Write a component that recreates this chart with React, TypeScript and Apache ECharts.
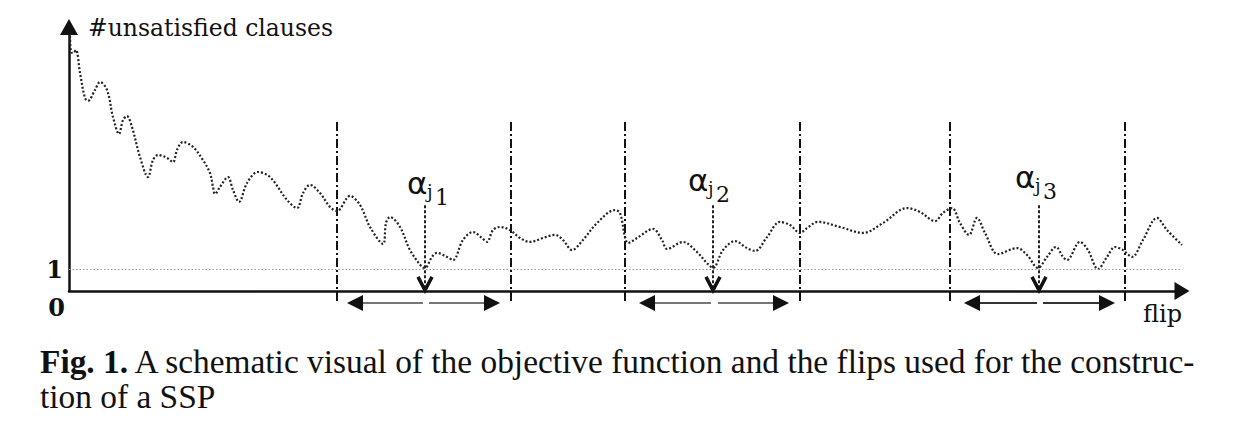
import React, { useEffect, useRef } from "react";
import * as echarts from "echarts";

// flip index (x) and number of unsatisfied clauses (y)
const flips = [
  1, 2, 4, 7, 11, 16, 19, 26, 31, 38, 44, 50, 54, 58, 63, 71, 79, 84, 89, 98,
  104, 108, 114, 124, 134, 141, 144, 146, 151, 159, 164, 170, 178, 189, 201, 218, 228, 234, 241, 251,
  261, 268, 281, 291, 301, 314, 317, 321, 331, 341, 353, 356, 363, 368, 378, 384, 394, 404, 413, 418,
  424, 431, 441, 451, 461, 474, 486, 494, 503, 514, 528, 546, 551, 556, 559, 568, 584, 593, 598, 614,
  628, 638, 644, 654, 666, 678, 686, 698, 711, 721, 731, 738, 749, 771, 794, 814, 838, 851, 866, 874,
  883, 891, 900, 908, 916, 929, 948, 958, 969, 978, 987, 994, 998, 1011, 1019, 1029, 1038, 1046, 1054, 1063,
  1074, 1088, 1098, 1113,
];
const unsatisfied = [
  11.59, 10.86, 10.82, 10.95, 9.91, 8.77, 8.64, 9.14, 9.5, 9.14, 7.91, 7.14, 7.77, 7.95, 7.45, 6.09, 5.18, 5.95, 6.18, 6.05,
  5.86, 6.41, 6.77, 6.55, 5.95, 5.36, 4.73, 4.41, 4.73, 5.18, 4.59, 4.05, 4.91, 5.41, 5.18, 4.14, 3.77, 4.45, 4.82, 4.45,
  3.82, 3.64, 4.32, 3.91, 2.91, 2.14, 3.09, 3.36, 2.91, 1.86, 1.09, 1.05, 1.55, 1.73, 1.55, 1.41, 2.32, 2.68, 2.41, 2.23,
  2.77, 2.91, 2.77, 2.41, 2.23, 2.41, 2.55, 2.32, 1.86, 2.32, 3.09, 3.68, 3.55, 2.45, 2.18, 2.41, 2.82, 2.32, 1.91, 2.23,
  1.77, 1.27, 1.05, 1.86, 2.27, 1.95, 1.82, 2.45, 3.14, 3.0, 2.64, 2.86, 3.14, 2.91, 2.64, 3.09, 3.77, 3.59, 3.18, 3.55,
  3.77, 3.09, 2.55, 3.32, 2.64, 1.68, 1.95, 1.64, 1.05, 1.55, 2.0, 1.55, 1.41, 2.23, 1.86, 1.0, 1.55, 2.0, 1.86, 1.55,
  2.32, 3.32, 2.77, 2.09,
];

// dash-dot window boundaries (flip positions)
const boundaries = [268, 442, 556, 731, 881, 1056];
// flips alpha_j (minima used for the SSP)
const alphaFlips = [356, 644, 970];
const alphaSubs = ["1", "2", "3"];
// double-headed arrows below the axis: [start, end] and gap [from, to]
const spanStart = [278, 570, 895];
const spanEnd = [431, 720, 1046];
const gapFrom = [354, 642, 968];
const gapTo = [360, 649, 974];
const threshold = 1;
const yTickLabels: Record<number, string> = { 1: "1" };
const xTickLabels: Record<number, string> = { 0: "0" };

const X_MAX = 1113;
const Y_MAX = 12;
const BOUND_TOP = 7.68;
const BOUND_BOTTOM = -0.59;
const ALPHA_TOP = 3.9;
const SPAN_Y = -0.55;

const alphaDx = [-18, -25, -24];
const alphaCy = [183, 180, 177];

const SERIF = '"DejaVu Serif", serif';
const CAPTION = '"Liberation Serif", serif';

export default function App() {
  const ref = useRef<HTMLDivElement>(null);
  useEffect(() => {
    if (!ref.current) return;
    const chart = echarts.init(ref.current, null, { renderer: "svg" });

    const curve = flips.map((f, i) => [f, unsatisfied[i]]);
    const shaftData: any[] = [];
    const headData: any[] = [];
    spanStart.forEach((s, i) => {
      const col = i === 2 ? "#333" : "#777";
      shaftData.push({ coords: [[s + 8, SPAN_Y], [gapFrom[i], SPAN_Y]], lineStyle: { color: col } });
      shaftData.push({ coords: [[gapTo[i], SPAN_Y], [spanEnd[i] - 8, SPAN_Y]], lineStyle: { color: col } });
      headData.push({ coords: [[s + 9, SPAN_Y], [s + 8, SPAN_Y]] });
      headData.push({ coords: [[spanEnd[i] - 9, SPAN_Y], [spanEnd[i] - 8, SPAN_Y]] });
    });

    const option: any = {
      animation: false,
      backgroundColor: "#fff",
      grid: { left: 69, top: 27, width: X_MAX, height: 264, containLabel: false },
      xAxis: {
        type: "value",
        min: 0,
        max: X_MAX,
        interval: X_MAX,
        axisLine: {
          show: true,
          onZero: false,
          symbol: ["none", "triangle"],
          symbolSize: [18, 15],
          lineStyle: { color: "#111", width: 2.5 },
        },
        axisTick: { show: false },
        splitLine: { show: false },
        axisLabel: {
          formatter: (v: number) => xTickLabels[v] ?? "",
          align: "right",
          margin: 4,
          padding: [0, 4, 0, 0],
          fontFamily: SERIF,
          fontWeight: "bold",
          fontSize: 24,
          color: "#111",
        },
      },
      yAxis: {
        type: "value",
        min: 0,
        max: Y_MAX,
        interval: 1,
        axisLine: {
          show: true,
          onZero: false,
          symbol: ["none", "triangle"],
          symbolSize: [18, 16],
          lineStyle: { color: "#111", width: 2.5 },
        },
        axisTick: { show: false },
        splitLine: { show: false },
        axisLabel: {
          formatter: (v: number) => yTickLabels[v] ?? "",
          margin: 6,
          padding: [6, 0, 0, 0],
          fontFamily: SERIF,
          fontWeight: "bold",
          fontSize: 24,
          color: "#111",
        },
      },
      series: [
        {
          type: "line",
          data: curve,
          smooth: 0.35,
          symbol: "none",
          clip: false,
          z: 3,
          lineStyle: { type: [2, 2], width: 2.2, color: "#222" },
          markLine: {
            silent: true,
            symbol: "none",
            label: { show: false },
            lineStyle: { type: [1.5, 2], width: 1, color: "#999" },
            data: [{ yAxis: threshold }],
          },
        },
        {
          type: "lines",
          coordinateSystem: "cartesian2d",
          clip: false,
          symbol: "none",
          lineStyle: { type: [9, 3, 2, 3], width: 2, color: "#111", opacity: 1 },
          data: boundaries.map((b) => ({ coords: [[b, BOUND_TOP], [b, BOUND_BOTTOM]] })),
        },
        {
          type: "lines",
          coordinateSystem: "cartesian2d",
          clip: false,
          symbol: "none",
          lineStyle: { type: [3, 2], width: 2, color: "#222", opacity: 1 },
          data: alphaFlips.map((a) => ({ coords: [[a, ALPHA_TOP], [a, 0.1]] })),
        },
        {
          type: "lines",
          coordinateSystem: "cartesian2d",
          polyline: true,
          clip: false,
          symbol: "none",
          lineStyle: { width: 3.5, color: "#111", opacity: 1 },
          data: alphaFlips.map((a) => ({ coords: [[a - 7, 0.64], [a, 0.03], [a + 7, 0.64]] })),
        },
        {
          type: "lines",
          coordinateSystem: "cartesian2d",
          clip: false,
          symbol: "none",
          lineStyle: { width: 2, opacity: 1 },
          data: shaftData,
        },
        {
          type: "lines",
          coordinateSystem: "cartesian2d",
          clip: false,
          symbol: ["none", "triangle"],
          symbolSize: [16, 16],
          lineStyle: { width: 1, color: "#111", opacity: 1 },
          data: headData,
        },
      ],
    };
    chart.setOption(option);

    const graphics: any[] = [
      {
        type: "text",
        left: 88,
        top: 16,
        style: { text: "#unsatisfied clauses", font: `23.5px ${SERIF}`, fill: "#111" },
      },
      {
        type: "text",
        left: 1143,
        top: 302,
        style: { text: "flip", font: `24px ${SERIF}`, fill: "#111" },
      },
      {
        type: "text",
        x: 40,
        y: 361,
        style: {
          text: "{b|Fig. 1.} A schematic visual of the objective function and the flips used for the construc-",
          font: `33.4px ${CAPTION}`,
          fill: "#111",
          verticalAlign: "middle",
          rich: { b: { fontWeight: "bold", fontSize: 33.4, fontFamily: CAPTION, fill: "#111" } },
        },
      },
      {
        type: "text",
        x: 40,
        y: 396,
        style: { text: "tion of a SSP", font: `33.4px ${CAPTION}`, fill: "#111", verticalAlign: "middle" },
      },
    ];
    alphaFlips.forEach((a, i) => {
      const p = chart.convertToPixel({ gridIndex: 0 }, [a, 0]) as number[];
      const left = p[0] + alphaDx[i];
      const cy = alphaCy[i];
      graphics.push({
        type: "text",
        x: left,
        y: cy,
        style: { text: "α", font: `31px "DejaVu Sans", sans-serif`, fill: "#111", verticalAlign: "middle" },
      });
      graphics.push({
        type: "text",
        x: left + 20,
        y: cy + 8,
        style: { text: "j", font: `18px ${SERIF}`, fill: "#111", verticalAlign: "middle" },
      });
      graphics.push({
        type: "text",
        x: left + 28,
        y: cy + 14.5,
        style: { text: alphaSubs[i], font: `22px ${SERIF}`, fill: "#111", verticalAlign: "middle" },
      });
    });
    chart.setOption({ graphic: graphics });

    return () => chart.dispose();
  }, []);

  return (
    <div
      ref={ref}
      style={{ position: "fixed", left: 0, top: 0, width: 1250, height: 432, background: "#fff" }}
    />
  );
}
